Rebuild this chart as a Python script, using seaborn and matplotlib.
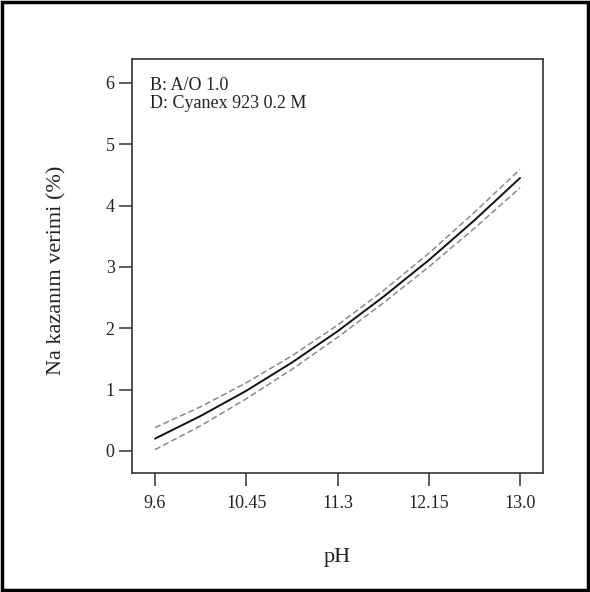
import matplotlib
matplotlib.use("Agg")
import matplotlib.pyplot as plt
import seaborn as sns
import pandas as pd
from matplotlib.patches import Rectangle

# Data
ph = [9.6, 10.025, 10.45, 10.875, 11.3, 11.725, 12.15, 12.575, 13.0]
fit = [0.20, 0.57, 0.98, 1.44, 1.95, 2.51, 3.11, 3.76, 4.45]
upper = [0.38, 0.72, 1.11, 1.55, 2.05, 2.61, 3.22, 3.89, 4.59]
lower = [0.02, 0.41, 0.85, 1.33, 1.85, 2.41, 3.00, 3.63, 4.29]
x_ticks = [9.6, 10.45, 11.3, 12.15, 13.0]
x_ticklabels = ["9.6", "10.45", "11.3", "12.15", "13.0"]
y_ticks = [0, 1, 2, 3, 4, 5, 6]
notes = ["B: A/O 1.0", "D: Cyanex 923 0.2 M"]

df = pd.DataFrame({"pH": ph, "fit": fit, "upper": upper, "lower": lower})

sns.set_theme(style="white")
plt.rcParams["font.family"] = ["Liberation Serif", "DejaVu Serif"]

fig = plt.figure(figsize=(5.9, 5.92), dpi=100)
ax = fig.add_axes([132/590, 119/592, 411/590, 414/592])

sns.lineplot(data=df, x="pH", y="upper", ax=ax, color="#8a8a8a", lw=1.1,
             linestyle=(0, (4, 2)))
sns.lineplot(data=df, x="pH", y="lower", ax=ax, color="#8a8a8a", lw=1.1,
             linestyle=(0, (4, 2)))
sns.lineplot(data=df, x="pH", y="fit", ax=ax, color="#111111", lw=1.4)

ax.set_xlim(9.386, 13.214)
ax.set_ylim(-0.36, 6.39)
ax.set_xticks(x_ticks)
ax.set_xticklabels(x_ticklabels)
ax.set_yticks(y_ticks)
ax.tick_params(axis="both", direction="out", length=9.5, width=1.1,
               color="#333333", labelsize=13, labelcolor="#222222",
               bottom=True, left=True)
ax.tick_params(axis="x", pad=6)
ax.tick_params(axis="y", pad=3)
for s in ax.spines.values():
    s.set_color("#333333")
    s.set_linewidth(1.2)

ax.set_xlabel("pH", fontsize=16, color="#222222")
ax.set_ylabel("Na kazanım verimi (%)", fontsize=16, color="#222222")
ax.xaxis.set_label_coords(0.5, -0.18)
ax.yaxis.set_label_coords(-0.16, 0.49)

ax.text(0.044, 0.957, "\n".join(notes), transform=ax.transAxes, ha="left",
        va="top", fontsize=13, color="#222222", linespacing=1.1)

fig.add_artist(Rectangle((0.003, 0.003), 0.994, 0.994, transform=fig.transFigure,
                         fill=False, edgecolor="black", lw=2.5))

fig.savefig("out.png", dpi=100, facecolor="white")
